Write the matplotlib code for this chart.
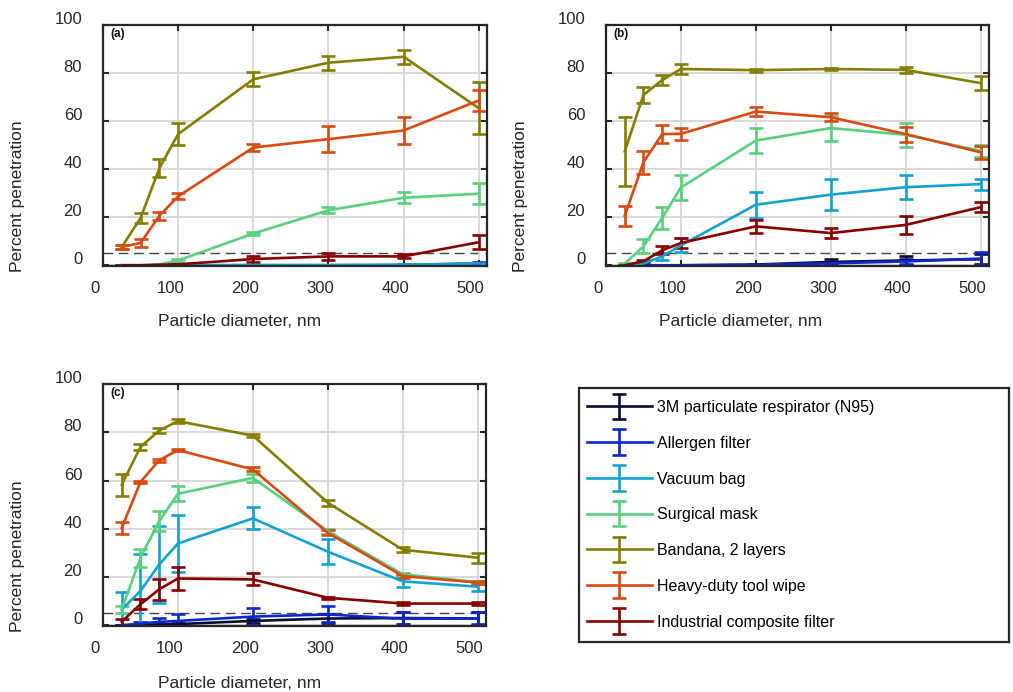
"""
Percent penetration vs particle diameter for seven filter materials,
three test conditions (a), (b), (c) plus a shared legend panel.
"""
import matplotlib
matplotlib.use("Agg")
import matplotlib.pyplot as plt
from matplotlib.transforms import ScaledTranslation
from matplotlib.container import ErrorbarContainer
from matplotlib.legend_handler import HandlerErrorbar

plt.rcParams['font.family'] = ['Liberation Sans', 'DejaVu Sans']

# particle diameters, nm
diameter = [25, 50, 75, 100, 200, 300, 400, 500]

materials = ["3M particulate respirator (N95)", "Allergen filter", "Vacuum bag",
             "Surgical mask", "Bandana, 2 layers", "Heavy-duty tool wipe",
             "Industrial composite filter"]
colors = ["#0b0b38", "#0a28cc", "#12a2d2", "#58d07c", "#837d00", "#d84a12", "#860000"]

# panel (a)
n95_a = [0, 0, 0, 0, 0, 0, 0, 0.2]
allergen_a = [0, 0, 0, 0, 0, 0, 0.1, 0.8]
vacuum_a = [0, 0, 0, 0, 0.1, 0.1, 0.2, 0.8]
surgical_a = [0, 0, 0.3, 2.0, 13.2, 22.9, 28.1, 29.8]
bandana_a = [7.6, 19.7, 40.4, 54.6, 77.4, 84.3, 86.8, 65.4]
wipe_a = [7.6, 9.3, 20.6, 28.7, 49.0, 52.5, 56.1, 68.6]
industrial_a = [0, 0, 0.2, 0.4, 2.6, 3.7, 3.7, 9.6]

n95_a_err = [0.1, 0.1, 0.1, 0.1, 0.1, 0.1, 0.1, 0.2]
allergen_a_err = [0, 0, 0, 0, 0, 0, 0.1, 0.6]
vacuum_a_err = [0, 0, 0, 0, 0.1, 0.1, 0.2, 0.3]
surgical_a_err = [0.1, 0.1, 0.2, 0.5, 0.8, 1.2, 2.2, 4.5]
bandana_a_err = [0.8, 2.0, 3.7, 4.7, 2.9, 3.0, 3.0, 10.7]
wipe_a_err = [0.8, 1.5, 1.7, 1.2, 1.6, 5.3, 5.6, 4.2]
industrial_a_err = [0.1, 0.1, 0.1, 0.2, 1.2, 1.6, 0.8, 2.8]

# panel (b)
n95_b = [0, 0, 0, 0, 0.3, 1.4, 2.0, 2.5]
allergen_b = [0, 0, 0, 0, 0.2, 0.8, 1.6, 2.8]
vacuum_b = [0, 0.7, 3.7, 8.3, 25.2, 29.4, 32.5, 33.8]
surgical_b = [0.7, 7.9, 19.7, 32.4, 51.9, 57.1, 54.3, 47.6]
bandana_b = [47.4, 70.9, 77.1, 81.7, 81.2, 81.7, 81.3, 75.8]
wipe_b = [20.6, 42.9, 54.6, 54.7, 64.0, 61.6, 54.6, 47.0]
industrial_b = [0, 1.7, 6.2, 9.3, 16.2, 13.4, 16.8, 24.2]

n95_b_err = [0, 0, 0, 0, 0.3, 1.4, 2.0, 2.0]
allergen_b_err = [0, 0, 0, 0, 0.2, 0.5, 1.2, 2.7]
vacuum_b_err = [0, 0.3, 1.4, 2.9, 5.5, 6.6, 5.0, 2.3]
surgical_b_err = [0.3, 2.9, 4.6, 5.1, 5.2, 5.2, 5.0, 2.4]
bandana_b_err = [14.5, 3.5, 2.0, 2.0, 0.6, 0.4, 1.1, 2.8]
wipe_b_err = [4.2, 4.8, 3.6, 2.6, 1.7, 1.6, 3.1, 2.6]
industrial_b_err = [0.1, 0.5, 1.7, 2.0, 2.6, 2.2, 3.9, 2.0]

# panel (c)
n95_c = [0, 0.1, 0.3, 0.5, 1.8, 2.8, 3.0, 2.8]
allergen_c = [0, 0.7, 1.4, 1.8, 3.6, 4.5, 2.7, 2.9]
vacuum_c = [6.6, 14.2, 25.2, 33.9, 44.3, 30.5, 18.2, 16.0]
surgical_c = [6.6, 28.0, 43.2, 54.5, 61.1, 39.0, 21.1, 17.9]
bandana_c = [58.3, 73.9, 80.7, 84.6, 78.6, 50.8, 31.3, 28.0]
wipe_c = [40.4, 59.4, 68.4, 72.6, 64.6, 38.3, 20.4, 17.7]
industrial_c = [1.5, 8.7, 14.9, 19.4, 19.0, 11.4, 9.0, 9.0]

n95_c_err = [0.1, 0.1, 0.2, 0.3, 0.8, 1.8, 2.5, 2.5]
allergen_c_err = [0.2, 0.5, 1.8, 2.7, 3.4, 3.3, 2.6, 2.5]
vacuum_c_err = [7.0, 15.5, 16.0, 12.0, 4.6, 5.3, 2.5, 1.7]
surgical_c_err = [1.5, 3.7, 4.1, 3.1, 1.8, 1.0, 0.5, 0.6]
bandana_c_err = [4.6, 1.4, 1.0, 0.7, 0.7, 1.2, 1.0, 2.0]
wipe_c_err = [2.6, 0.6, 0.7, 0.5, 0.8, 1.0, 0.7, 0.7]
industrial_c_err = [1.3, 2.1, 4.4, 4.8, 2.5, 0.5, 0.5, 0.5]

panels = [
    ("(a)", [n95_a, allergen_a, vacuum_a, surgical_a, bandana_a, wipe_a, industrial_a],
     [n95_a_err, allergen_a_err, vacuum_a_err, surgical_a_err, bandana_a_err, wipe_a_err, industrial_a_err]),
    ("(b)", [n95_b, allergen_b, vacuum_b, surgical_b, bandana_b, wipe_b, industrial_b],
     [n95_b_err, allergen_b_err, vacuum_b_err, surgical_b_err, bandana_b_err, wipe_b_err, industrial_b_err]),
    ("(c)", [n95_c, allergen_c, vacuum_c, surgical_c, bandana_c, wipe_c, industrial_c],
     [n95_c_err, allergen_c_err, vacuum_c_err, surgical_c_err, bandana_c_err, wipe_c_err, industrial_c_err]),
]

W, H = 1013, 692
fig = plt.figure(figsize=(W / 100, H / 100), dpi=100)

def px_axes(l, t, r, b):
    return fig.add_axes([l / W, 1 - b / H, (r - l) / W, (b - t) / H])

axes = [px_axes(103, 25, 487, 266), px_axes(606, 25, 989, 266), px_axes(103, 384, 486, 626)]
ax_leg = px_axes(579, 388, 1009, 642)

FRAME = "#262626"
handles = []
for ax, (tag, series, errs) in zip(axes, panels):
    ax.grid(True, color="#d6d6d6", lw=1.3, zorder=0)
    ax.axhline(5, color="#444444", lw=1.0, ls=(0, (7, 4)), zorder=1)
    handles = []
    for name, col, y, e in zip(materials, colors, series, errs):
        h = ax.errorbar(diameter, y, yerr=e, color=col, lw=1.9, elinewidth=1.9,
                        capsize=4.8, capthick=1.9, label=name, zorder=3)
        handles.append(h)
    ax.set_xlim(0, 511)
    ax.set_ylim(-0.3, 100)
    ax.set_xticks([0, 100, 200, 300, 400, 500])
    ax.set_yticks([0, 20, 40, 60, 80, 100])
    ax.tick_params(direction="in", length=4.5, width=1.5, color=FRAME, top=True, right=True,
                   labelsize=12, labelcolor="#262626")
    ax.tick_params(axis="x", pad=11)
    ax.tick_params(axis="y", pad=15)
    for sp in ax.spines.values():
        sp.set_color(FRAME)
        sp.set_linewidth(1.6)
        sp.set_zorder(4)
    ax.text(0.018, 0.988, tag, transform=ax.transAxes, ha="left", va="top",
            fontsize=8.5, fontweight="bold", color="#111111")

# axis labels, placed where the original has them
label_kw = dict(fontsize=12.5, color="#262626", ha="center", va="center")
for (xx, xy), (yx, yy) in [((240, 322), (18, 196)), ((741, 322), (521, 196)),
                           ((240, 683), (18, 556))]:
    fig.text(xx / W, 1 - xy / H, "Particle diameter, nm", **label_kw)
    fig.text(yx / W, 1 - yy / H, "Percent penetration", rotation=90, **label_kw)

# legend panel
ax_leg.set_xticks([])
ax_leg.set_yticks([])
for sp in ax_leg.spines.values():
    sp.set_color(FRAME)
    sp.set_linewidth(1.6)
ax_leg.legend(handles, materials, loc="upper left", bbox_to_anchor=(-0.012, 1.003), frameon=False,
              fontsize=11.5, handlelength=4.1, handletextpad=0.3, labelspacing=1.3,
              borderaxespad=0.55, borderpad=0.25,
              handler_map={ErrorbarContainer: HandlerErrorbar(yerr_size=0.8)})

# the original's tick labels sit slightly off their ticks
for ax in axes:
    for lab in ax.get_xticklabels():
        lab.set_transform(lab.get_transform() + ScaledTranslation(-8 / 100, 0, fig.dpi_scale_trans))
    for lab in ax.get_yticklabels():
        lab.set_transform(lab.get_transform() + ScaledTranslation(0, 7 / 100, fig.dpi_scale_trans))

fig.savefig("out.png", dpi=100)
